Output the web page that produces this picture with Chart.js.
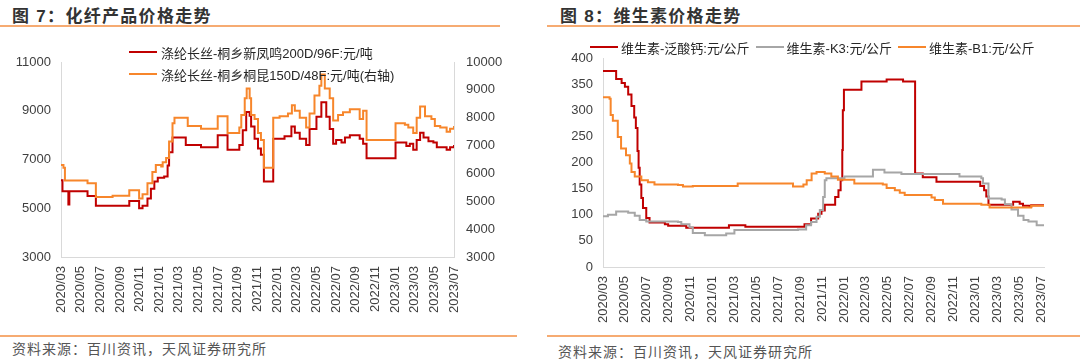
<!DOCTYPE html>
<html>
<head>
<meta charset="utf-8">
<script src="https://cdn.jsdelivr.net/npm/chart.js@4.4.0/dist/chart.umd.min.js"></script>
<style>
  body { margin: 0; width: 1080px; height: 361px; background: #fff; position: relative; overflow: hidden;
         font-family: "Liberation Sans", "Noto Sans CJK SC", sans-serif; }
  .title { position: absolute; top: 2px; font-size: 17px; font-weight: bold; color: #333; letter-spacing: 1.3px; white-space: nowrap; }
  .rule { position: absolute; height: 2px; background: #f6ab72; }
  .src { position: absolute; font-size: 14px; color: #555; letter-spacing: 1px; white-space: nowrap; }
  .box { position: absolute; top: 0; width: 540px; height: 330px; }
  .legend { position: absolute; font-size: 13px; color: #262626; white-space: nowrap; }
  .legend .item { display: flex; align-items: center; height: 22px; }
  .legend .sw { display: inline-block; width: 28px; height: 2px; margin-right: 4px; }
  #lg8 { display: flex; }
  #lg8 .item { margin-right: 6px; height: 16px; }
  #lg8 .sw { margin-right: 3px; }
</style>
</head>
<body>

<div class="title" style="left:12px">图 7：化纤产品价格走势</div>
<div class="rule" style="left:0;width:500px;top:25px"></div>
<div class="box" style="left:0"><canvas id="c7" width="540" height="330"></canvas></div>
<div class="legend" id="lg7" style="left:129px;top:41px"></div>
<div class="rule" style="left:0;width:517px;top:335px"></div>
<div class="src" style="left:12px;top:338px">资料来源：百川资讯，天风证券研究所</div>

<div class="title" style="left:560px">图 8：维生素价格走势</div>
<div class="rule" style="left:547px;width:533px;top:25px"></div>
<div class="box" style="left:540px"><canvas id="c8" width="540" height="330"></canvas></div>
<div class="legend" id="lg8" style="left:590px;top:39px"></div>
<div class="rule" style="left:547px;width:533px;top:335px"></div>
<div class="src" style="left:558px;top:341px">资料来源：百川资讯，天风证券研究所</div>

<script>
// x values are months counted from 2020/03
const startYear = 2020;
const startMonth = 3;

// 图7 化纤
const fiberLabels = ["涤纶长丝-桐乡新凤鸣200D/96F:元/吨", "涤纶长丝-桐乡桐昆150D/48F:元/吨(右轴)"];
const xfmMonths = [0, 0.15, 0.75, 0.85, 2.7, 3.55, 6.95, 7.95, 8.3, 8.8, 9.15, 9.5, 9.85, 10.5, 10.85, 11.0,
  11.35, 12.7, 14.25, 15.95, 16.95, 18.15, 18.5, 18.85, 19.2, 19.35, 19.7, 20.05, 20.35, 20.65, 21.6, 22.75,
  23.45, 23.8, 24.3, 24.95, 25.3, 26.0, 26.5, 27.0, 27.35, 27.7, 28.0, 28.55, 28.9, 29.4, 30.4, 30.75,
  31.1, 34.05, 35.15, 35.5, 35.85, 36.2, 36.55, 36.9, 37.4, 37.9, 38.25, 39.25, 39.6, 40.0];
const xfmPrice = [6150, 5700, 5150, 5700, 5500, 5100, 5300, 5000, 5100, 5400, 5800, 6100, 6250, 6300, 6750, 7300,
  7900, 7600, 7500, 8000, 7400, 7600, 8200, 8950, 8800, 8350, 7850, 7450, 7200, 6100, 7850, 7950,
  8350, 8100, 7850, 7600, 8250, 8750, 9350, 8750, 8250, 7650, 7800, 7700, 7900, 8000, 7850, 7650,
  7050, 7700, 7550, 7650, 7400, 7800, 8100, 7900, 7750, 7700, 7500, 7400, 7500, 7600];
const tkMonths = [0, 0.25, 0.4, 2.7, 3.55, 5.25, 6.95, 7.95, 8.3, 8.8, 9.3, 9.65, 10.2, 10.35, 10.7, 11.0,
  11.35, 11.55, 12.9, 14.25, 15.95, 16.95, 18.15, 18.35, 18.7, 18.9, 19.2, 19.35, 19.7, 20.05, 20.35, 20.65,
  21.6, 22.25, 23.1, 23.5, 23.8, 24.3, 24.95, 25.3, 25.8, 26.3, 26.5, 26.85, 27.35, 27.7, 28.2, 28.7,
  29.4, 30.4, 30.75, 31.1, 34.05, 35.0, 35.35, 35.85, 36.2, 36.55, 37.05, 37.7, 38.05, 38.6, 39.25, 39.6, 40.0];
const tkPrice = [6300, 6200, 5750, 5650, 5150, 5200, 5400, 5100, 5250, 5650, 6050, 6300, 6250, 6400, 6550, 7150,
  7800, 8000, 7700, 7600, 8050, 7450, 7650, 8100, 8700, 9050, 8700, 8100, 7950, 7450, 7200, 6200,
  8000, 8050, 8150, 8450, 8250, 8000, 7650, 8150, 8800, 9150, 9550, 9050, 8700, 7900, 8100, 8200,
  8300, 7950, 8250, 7200, 7800, 7750, 7650, 7450, 8000, 8400, 8050, 7950, 7700, 7650, 7500, 7600, 7700];

// 图8 维生素
const vitLabels = ["维生素-泛酸钙:元/公斤", "维生素-K3:元/公斤", "维生素-B1:元/公斤"];
const panMonths = [0, 1.2, 1.7, 2.0, 2.3, 2.6, 2.85, 3.0, 3.15, 3.25, 3.35, 3.5, 3.65, 3.95, 4.25, 5.65,
  5.95, 7.6, 11.5, 13.0, 17.8, 18.4, 19.0, 19.65, 19.95, 20.25, 21.2, 21.5, 21.7, 21.85, 21.9, 22.0,
  23.6, 25.9, 27.4, 28.5, 29.2, 30.45, 34.45, 34.8, 35.0, 35.2, 37.45, 38.05, 38.35, 38.95, 39.1, 40.27];
const panPrice = [375, 360, 352, 345, 330, 308, 286, 266, 222, 190, 158, 132, 113, 94, 85, 82,
  79, 75, 80, 77, 77, 82, 93, 102, 108, 119, 134, 147, 166, 224, 300, 339,
  355, 359, 355, 179, 172, 163, 155, 147, 135, 119, 125, 121, 117, 115, 118, 118];
const k3Months = [0, 0.45, 1.2, 2.3, 2.9, 3.35, 3.95, 6.85, 7.15, 7.9, 8.2, 9.3, 11.25, 12.0, 17.8, 18.55,
  19.0, 19.5, 19.8, 20.1, 20.25, 20.4, 22.05, 24.65, 25.7, 27.25, 32.55, 34.55, 34.7, 35.2, 36.4, 36.7,
  37.3, 37.9, 38.4, 38.85, 39.6, 40.27];
const k3Price = [97, 100, 106, 104, 98, 90, 87, 86, 82, 76, 65, 61, 64, 71, 72, 80,
  86, 96, 109, 134, 166, 170, 173, 186, 181, 178, 173, 170, 160, 131, 129, 120,
  110, 98, 90, 87, 80, 79];
const b1Months = [0, 0.6, 0.7, 0.9, 1.35, 1.65, 2.1, 2.45, 2.6, 2.9, 3.5, 4.1, 4.7, 6.85, 7.3, 8.2,
  12.3, 17.35, 18.3, 18.6, 19.05, 19.5, 20.25, 20.85, 21.45, 22.95, 25.55, 25.9, 26.65, 27.1, 27.55, 30.0,
  30.3, 31.05, 34.55, 35.3, 37.3, 39.1, 40.27];
const b1Price = [325, 322, 291, 280, 249, 227, 214, 198, 182, 173, 166, 162, 158, 157, 154, 155,
  160, 154, 158, 166, 179, 182, 179, 173, 167, 160, 158, 151, 147, 142, 138, 133,
  128, 121, 119, 114, 114, 117, 117];

const red = "#c00000";
const orange = "#f7862b";
const grey = "#a6a6a6";
const tickColor = "#404040";
const tickFont = { family: '"Liberation Sans", "Noto Sans CJK SC", sans-serif', size: 13 };
const axisLine = "#d9d9d9";

function pts(xs, ys) {
  return xs.map((x, i) => ({ x: x, y: ys[i] }));
}

function monthLabel(v) {
  const t = startMonth - 1 + v;
  const y = startYear + Math.floor(t / 12);
  const m = (t % 12) + 1;
  return y + "/" + String(m).padStart(2, "0");
}

function xScale(max, height) {
  return {
    type: "linear", min: 0, max: max,
    grid: { display: false, drawTicks: false },
    border: { display: true, color: axisLine },
    ticks: {
      stepSize: 2, includeBounds: false, autoSkip: false,
      minRotation: 90, maxRotation: 90, padding: 9,
      color: tickColor, font: tickFont,
      callback: (v) => monthLabel(v)
    },
    afterFit: (s) => { s.height = height; }
  };
}

function yScale(pos, min, max, step, width, pad) {
  return {
    position: pos, min: min, max: max,
    grid: { display: false, drawTicks: false },
    border: { display: true, color: axisLine },
    ticks: { stepSize: step, padding: pad, color: tickColor, font: tickFont,
             callback: (v) => String(v) },
    afterFit: (s) => { s.width = width; }
  };
}

function htmlLegend(chart, el) {
  chart.data.datasets.forEach(ds => {
    const it = document.createElement("div");
    it.className = "item";
    const sw = document.createElement("span");
    sw.className = "sw";
    sw.style.background = ds.borderColor;
    const tx = document.createElement("span");
    tx.textContent = ds.label;
    it.appendChild(sw);
    it.appendChild(tx);
    el.appendChild(it);
  });
}

const lineDefaults = { stepped: true, pointRadius: 0, borderWidth: 2, fill: false };

const ct7 = document.getElementById("c7").getContext("2d");
const fiberChart = new Chart(ct7, {
  type: "line",
  data: {
    datasets: [{
      label: fiberLabels[0], data: pts(xfmMonths, xfmPrice),
      borderColor: red, yAxisID: "y", order: 1
    }, {
      label: fiberLabels[1], data: pts(tkMonths, tkPrice),
      borderColor: orange, yAxisID: "y1", order: 0
    }]
  },
  options: {
    responsive: false,
    animation: false,
    datasets: { line: lineDefaults },
    layout: { padding: { top: 62, left: 0, right: 0, bottom: 0 } },
    plugins: { legend: { display: false }, tooltip: { enabled: false } },
    scales: {
      x: xScale(40, 73),
      y: yScale("left", 3000, 11000, 2000, 61, 10),
      y1: yScale("right", 3000, 10000, 1000, 86, 12)
    }
  }
});
htmlLegend(fiberChart, document.getElementById("lg7"));

const ct8 = document.getElementById("c8").getContext("2d");
const vitChart = new Chart(ct8, {
  type: "line",
  data: {
    datasets: [{
      label: vitLabels[0], data: pts(panMonths, panPrice), borderColor: red, order: 2
    }, {
      label: vitLabels[1], data: pts(k3Months, k3Price), borderColor: grey, order: 1
    }, {
      label: vitLabels[2], data: pts(b1Months, b1Price), borderColor: orange, order: 0
    }]
  },
  options: {
    responsive: false,
    animation: false,
    datasets: { line: lineDefaults },
    layout: { padding: { top: 58, left: 0, right: 36, bottom: 0 } },
    plugins: { legend: { display: false }, tooltip: { enabled: false } },
    scales: {
      x: xScale(40.27, 63),
      y: yScale("left", 0, 400, 50, 63, 10)
    }
  }
});
htmlLegend(vitChart, document.getElementById("lg8"));
</script>
</body>
</html>
